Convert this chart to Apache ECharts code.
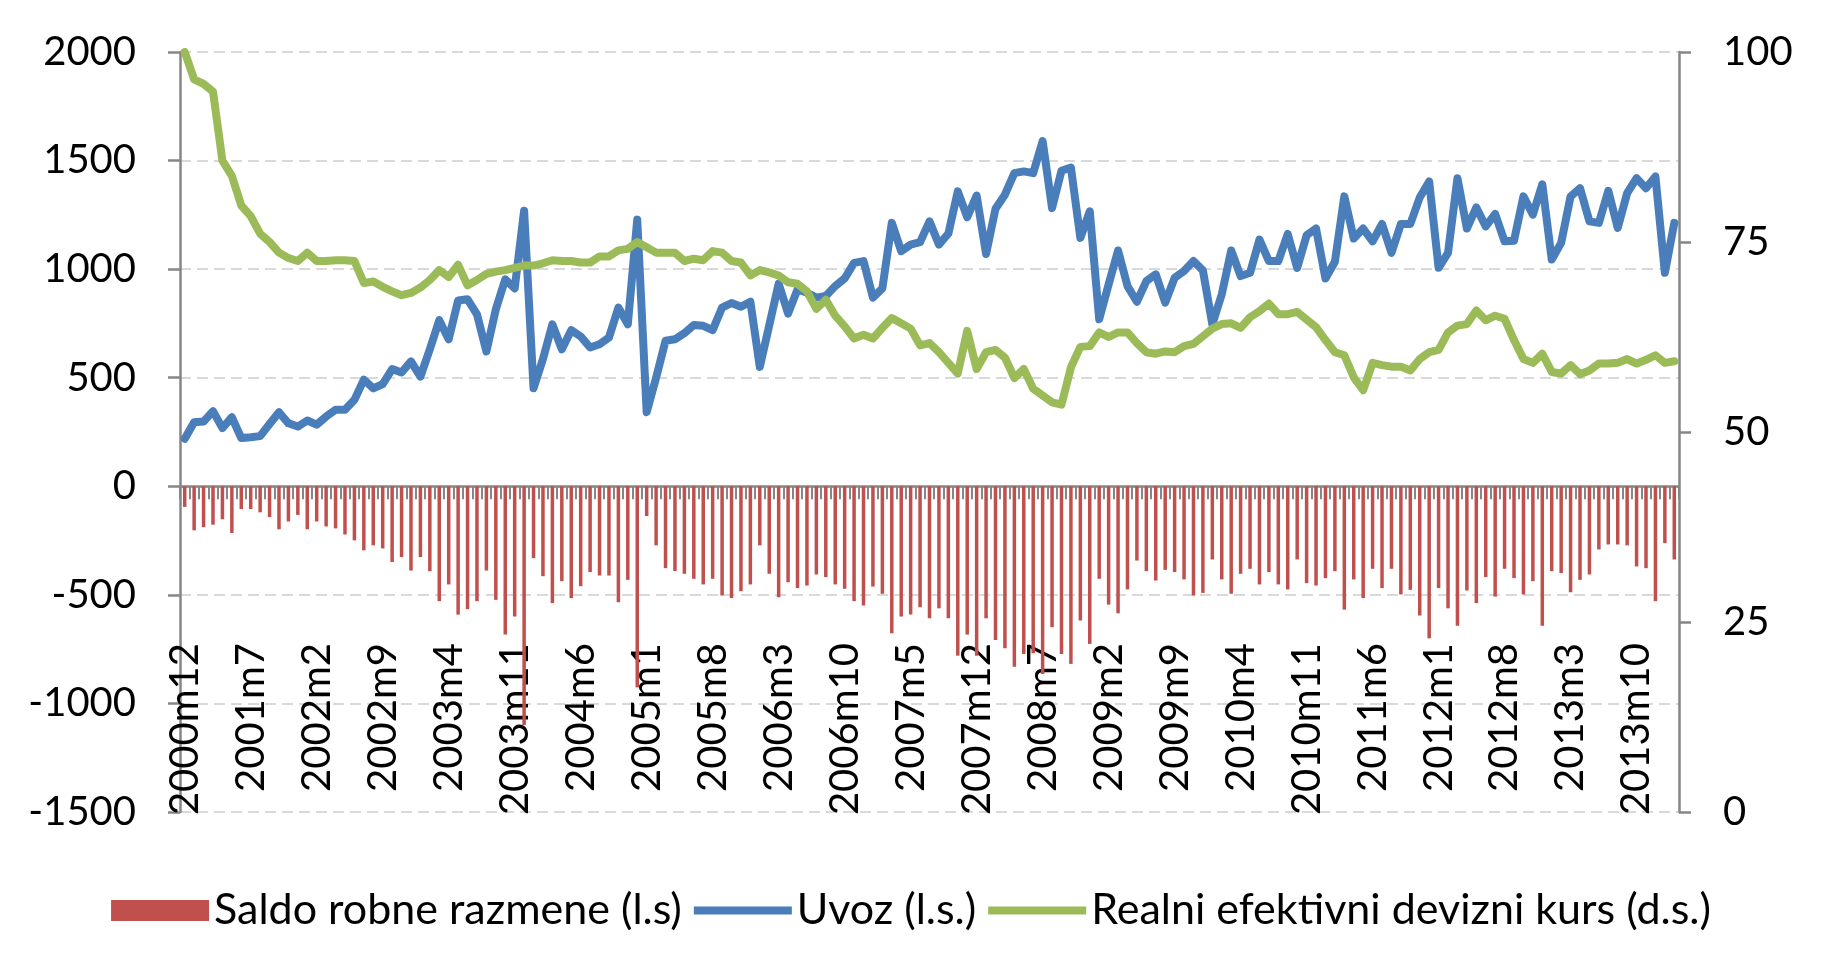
<!DOCTYPE html>
<html>
<head>
<meta charset="utf-8">
<script src="https://cdn.jsdelivr.net/npm/echarts@6/dist/echarts.min.js"></script>
<style>
html,body{margin:0;padding:0;background:#fff;}
#chart{width:1822px;height:974px;}
</style>
</head>
<body>
<div id="chart"></div>
<script>
// Month labels, 2000m12 .. 2014m2
var categories = (function(){
  var out = ['2000m12'];
  for (var y = 2001; y <= 2014; y++) {
    for (var m = 1; m <= 12; m++) {
      if (y === 2014 && m > 2) break;
      out.push(y + 'm' + m);
    }
  }
  return out;
})();

var saldoName = 'Saldo robne razmene (l.s)';
var uvozName = 'Uvoz (l.s.)';
var kursName = 'Realni efektivni devizni kurs (d.s.)';

var leftTicks = {min: -1500, max: 2000, interval: 500};
var rightTicks = {min: 0, max: 100, interval: 25};

var saldo = [
 -95,-203,-188,-177,-152,-215,-105,-105,-120,-142,-198,-162,-132,
 -198,-162,-185,-194,-222,-249,-295,-272,-286,-349,-326,-388,
 -326,-391,-529,-452,-591,-566,-529,-388,-523,-683,-600,-1100,
 -331,-414,-538,-437,-515,-460,-395,-411,-411,-534,-431,-926,
 -137,-272,-377,-390,-403,-426,-452,-426,-503,-515,-483,-452,
 -272,-403,-511,-442,-469,-457,-406,-418,-452,-472,-529,-549,
 -462,-495,-677,-600,-591,-557,-608,-562,-608,-780,-683,-780,
 -608,-708,-746,-831,-772,-769,-865,-649,-772,-818,-618,-726,
 -426,-545,-585,-475,-342,-391,-434,-385,-395,-429,-503,-491,
 -337,-429,-495,-403,-380,-452,-395,-452,-475,-337,-446,-457,
 -423,-391,-568,-429,-515,-380,-469,-380,-498,-477,-595,-700,
 -469,-562,-642,-480,-538,-418,-508,-380,-423,-498,-437,-642,
 -391,-400,-488,-431,-406,-291,-268,-268,-272,-369,-377,-529,
 -262,-337
];

var uvoz = [
 219,295,298,346,268,318,222,226,231,287,341,290,275,
 303,284,321,352,352,398,491,451,471,540,524,575,
 505,631,765,677,856,861,792,621,815,953,911,1269,
 451,586,746,631,719,690,639,654,685,823,746,1228,
 341,500,670,677,705,743,739,719,823,844,827,850,
 550,741,933,795,907,891,869,876,922,957,1029,1037,
 869,911,1213,1083,1113,1124,1220,1113,1164,1358,1239,1339,
 1070,1278,1343,1442,1450,1442,1590,1281,1453,1468,1144,1266,
 769,930,1086,922,850,945,976,846,960,991,1037,994,
 746,884,1086,968,983,1136,1037,1037,1162,1006,1156,1187,
 957,1034,1335,1141,1187,1128,1208,1075,1208,1208,1330,1404,
 1006,1075,1419,1187,1284,1197,1254,1128,1131,1335,1251,1391,
 1044,1121,1335,1373,1220,1213,1361,1190,1350,1419,1373,1427,
 983,1213
];

var kurs = [
 100,96.4,95.8,94.8,85.7,83.7,79.8,78.4,76.1,75.0,73.6,72.9,72.5,
 73.6,72.5,72.5,72.6,72.6,72.5,69.6,69.8,69.1,68.5,68.0,68.3,
 69.0,70.0,71.3,70.4,72.0,69.3,70.0,70.8,71.1,71.3,71.6,71.9,
 71.9,72.2,72.6,72.5,72.5,72.3,72.3,73.1,73.1,73.9,74.1,75.0,
 74.3,73.6,73.6,73.6,72.5,72.8,72.6,73.8,73.6,72.5,72.3,70.6,
 71.3,71.0,70.6,69.7,69.5,68.5,66.2,67.4,65.3,63.9,62.3,62.8,
 62.3,63.7,65.0,64.3,63.6,61.4,61.7,60.5,59.1,57.7,63.3,58.3,
 60.5,60.8,59.8,57.1,58.3,55.7,54.8,53.9,53.6,58.5,61.2,61.3,
 63.1,62.5,63.1,63.1,61.7,60.5,60.3,60.6,60.5,61.3,61.6,62.6,
 63.6,64.2,64.3,63.7,65.1,65.9,66.9,65.5,65.5,65.8,64.8,63.8,
 62.1,60.5,60.1,57.2,55.5,59.1,58.8,58.6,58.6,58.1,59.6,60.5,
 60.8,63.1,64.0,64.2,66.0,64.7,65.3,64.9,62.1,59.6,59.1,60.3,
 57.9,57.7,58.8,57.6,58.1,59.0,59.0,59.1,59.6,59.0,59.5,60.1,
 59.1,59.3
];

var FONT = 'Lato';
var AXIS_GREY = '#868686';
// horizontal band centred in a 100x20 box (zero-area corner marks pad the box)
var LINE_ICON = 'path://M0,0L0.01,0Z M0,6.2L100,6.2L100,13.8L0,13.8Z M100,20L99.99,20Z';
var plain = function (v) { return String(v); };

var chart = echarts.init(document.getElementById('chart'), null, {renderer: 'canvas'});
chart.setOption({
  animation: false,
  backgroundColor: '#ffffff',
  textStyle: {fontFamily: FONT},
  grid: {left: 180, right: 143, top: 52, bottom: 162, containLabel: false, outerBoundsMode: 'none'},
  legend: {
    top: 884,
    left: 'center',
    itemWidth: 98,
    itemHeight: 21,
    itemGap: 12,
    itemTextGap: 6,
    symbolKeepAspect: false,
    textStyle: {fontFamily: FONT, fontSize: 43, color: '#000'},
    data: [
      {name: saldoName, icon: 'rect'},
      {name: uvozName, icon: LINE_ICON},
      {name: kursName, icon: LINE_ICON}
    ]
  },
  xAxis: {
    type: 'category',
    data: categories,
    boundaryGap: true,
    axisLine: {onZero: true, onZeroAxisIndex: 0, lineStyle: {color: AXIS_GREY, width: 2.5}},
    axisTick: {show: true, interval: 0, length: 13, lineStyle: {color: AXIS_GREY, width: 2}},
    axisLabel: {interval: 6, rotate: 90, margin: -169, fontSize: 40, fontFamily: FONT, color: '#000', hideOverlap: false},
    splitLine: {show: false}
  },
  yAxis: [
    {
      type: 'value',
      min: leftTicks.min, max: leftTicks.max, interval: leftTicks.interval,
      axisLine: {show: true, lineStyle: {color: AXIS_GREY, width: 2.5}},
      axisTick: {show: true, length: 12, lineStyle: {color: AXIS_GREY, width: 2.5}},
      axisLabel: {margin: 44, fontSize: 40, fontFamily: FONT, color: '#000', formatter: plain},
      splitLine: {show: true, lineStyle: {color: '#d9d9d9', width: 2, type: [11, 6]}}
    },
    {
      type: 'value',
      position: 'right',
      min: rightTicks.min, max: rightTicks.max, interval: rightTicks.interval,
      axisLine: {show: true, lineStyle: {color: AXIS_GREY, width: 2.5}},
      axisTick: {show: true, length: 12, lineStyle: {color: AXIS_GREY, width: 2.5}},
      axisLabel: {margin: 44, fontSize: 40, fontFamily: FONT, color: '#000', formatter: plain},
      splitLine: {show: false}
    }
  ],
  series: [
    {
      name: saldoName,
      type: 'bar',
      yAxisIndex: 0,
      data: saldo,
      barWidth: 3.5,
      itemStyle: {color: '#c0504d'}
    },
    {
      name: uvozName,
      type: 'line',
      yAxisIndex: 0,
      data: uvoz,
      symbol: 'none',
      lineStyle: {color: '#4a7ebb', width: 8, join: 'round', cap: 'round'},
      itemStyle: {color: '#4a7ebb'}
    },
    {
      name: kursName,
      type: 'line',
      yAxisIndex: 1,
      data: kurs,
      symbol: 'none',
      lineStyle: {color: '#9bbb59', width: 8, join: 'round', cap: 'round'},
      itemStyle: {color: '#9bbb59'}
    }
  ]
});
</script>
</body>
</html>
